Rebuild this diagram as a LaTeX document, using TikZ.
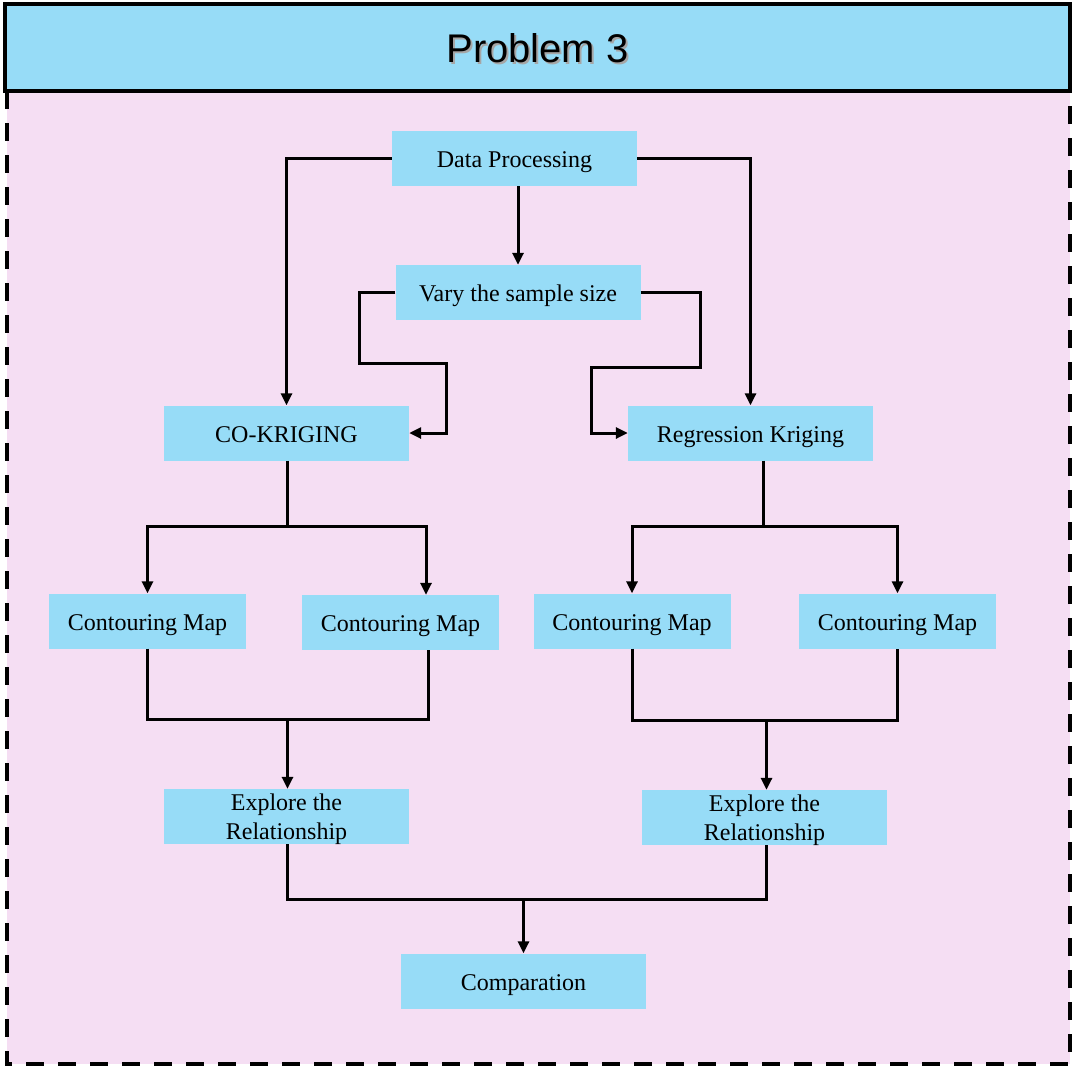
\documentclass[tikz,border=0pt]{standalone}
\usepackage{fontspec}
\setmainfont{Liberation Serif}
\newfontfamily\titlefont{Liberation Sans}
\usetikzlibrary{arrows.meta,calc}
\definecolor{boxblue}{HTML}{97DCF7}
\definecolor{bgpink}{HTML}{F5DEF3}
\begin{document}
\begin{tikzpicture}[x=1pt,y=-1pt,
  box/.style={fill=boxblue,minimum width=245pt,minimum height=55pt,inner sep=0pt,
    font=\fontsize{24}{28.5}\selectfont,align=center,text height=18pt,text depth=0pt},
  twobox/.style={box,text height=45.5pt,text depth=0pt},
  cmbox/.style={box,minimum width=197pt},
  link/.style={line width=3pt},
  arr/.style={link,-{Triangle[length=12pt,width=11pt]}},
  titletxt/.style={font=\titlefont\fontsize{40}{44}\selectfont,inner sep=0pt}]
\useasboundingbox (0,0) rectangle (1084,1071);
% background panel
\fill[bgpink] (7,91) rectangle (1070,1064);
\draw[line width=4pt,dash pattern=on 18pt off 14pt] (7,91) -- (7,1064) -- (1070,1064) -- (1070,91);
% title
\node[draw,line width=4pt,fill=boxblue,minimum width=1065pt,minimum height=87pt,inner sep=0pt] (title) at (537.5,47.5) {};
\node[titletxt,text=black!35] (titleshadow) at (539.5,50.5) {Problem 3};
\node[titletxt] (titletext) at (537.5,48.5) {Problem 3};
% nodes
\node[box] (dp) at (514.5,158.5) {Data Processing};
\node[box] (vs) at (518,292.5) {Vary the sample size};
\node[box] (ck) at (286.5,433) {CO-KRIGING};
\node[box] (rk) at (750.5,433) {Regression Kriging};
\node[cmbox] (cm1) at (147.5,621) {Contouring Map};
\node[cmbox] (cm2) at (400.5,622.5) {Contouring Map};
\node[cmbox] (cm3) at (632,621) {Contouring Map};
\node[cmbox] (cm4) at (897.5,621) {Contouring Map};
\node[twobox] (ex1) at (286.5,816.5) {Explore the\\Relationship};
\node[twobox] (ex2) at (764.5,817.5) {Explore the\\Relationship};
\node[box] (cmp) at (523.5,981) {Comparation};
% junctions
\coordinate (ckj) at (287.5,526);
\coordinate (rkj) at (763,526);
\coordinate (ej1) at (287.5,719);
\coordinate (ej2) at (766.5,720);
\coordinate (cj) at (523.5,899);
% connectors
\draw[arr] (dp.west) -| (ck.north);
\draw[arr] (dp.east) -| (rk.north);
\draw[arr] (vs.north |- dp.south) -- (vs.north);
\draw[arr] (vs.west) -| (359,363) -| ($(ck.east)+(37,0)$) -- (ck.east);
\draw[arr] (vs.east) -| (700,367) -| ($(rk.west)+(-36,0)$) -- (rk.west);
\draw[link] (ck.south -| ckj) -- (ckj);
\draw[arr] (ckj) -| (cm1.north);
\draw[arr] (ckj) -| ($(cm2.north)+(25.5,0)$);
\draw[link] (rk.south -| rkj) -- (rkj);
\draw[arr] (rkj) -| (cm3.north);
\draw[arr] (rkj) -| (cm4.north);
\draw[link] (cm1.south) |- (ej1) -| ($(cm2.south)+(27.5,0)$);
\draw[arr] (ej1) -- (ex1.north -| ej1);
\draw[link] (cm3.south) |- (ej2) -| (cm4.south);
\draw[arr] (ej2) -- (ex2.north -| ej2);
\draw[link] (ex1.south -| ej1) |- (cj) -| (ex2.south -| ej2);
\draw[arr] (cj) -- (cmp.north);
\end{tikzpicture}
\end{document}
